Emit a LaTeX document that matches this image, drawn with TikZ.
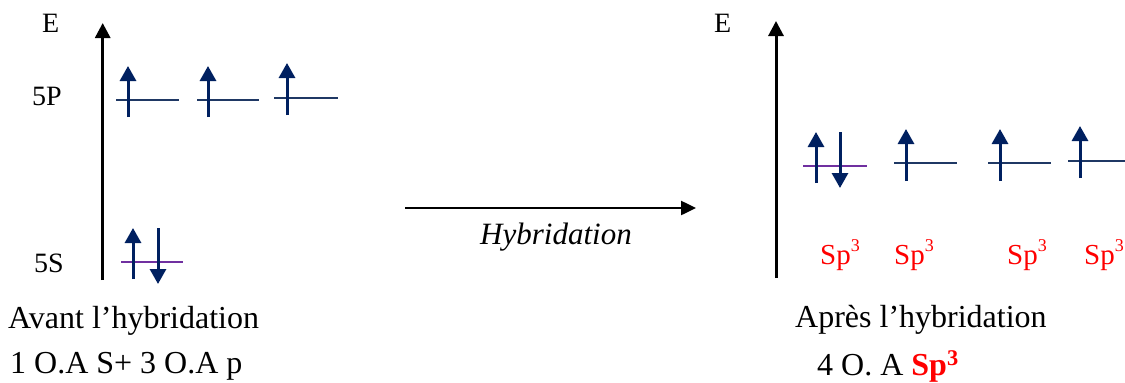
\documentclass[tikz,border=0pt]{standalone}
\usepackage{fontspec}
\setmainfont{Liberation Serif}
\usetikzlibrary{arrows.meta}
\definecolor{navy}{RGB}{0,32,96}
\definecolor{lvl}{RGB}{31,56,100}
\definecolor{purp}{RGB}{112,48,160}
\definecolor{sred}{RGB}{255,0,0}
\newcommand{\spthree}{Sp\raisebox{13pt}{\fontsize{18}{18}\selectfont 3}}
\tikzset{
  axis/.style={line width=3pt,-{Triangle[length=15pt,width=15pt]}},
  level/.style={line width=2pt,lvl},
  slevel/.style={line width=2pt,purp},
  spin/.style={line width=3pt,navy,-{Triangle[length=15pt,width=16pt]}},
  lbl/.style={inner sep=0pt,anchor=base west,font=\fontsize{28}{30}\selectfont},
  big/.style={inner sep=0pt,anchor=base west,font=\fontsize{32}{36}\selectfont},
  sp/.style={inner sep=0pt,anchor=base west,text=sred,font=\fontsize{29}{30}\selectfont},
}
\begin{document}
\begin{tikzpicture}[x=1pt,y=-1pt]
\useasboundingbox (0,0) rectangle (1125,383);
% left axis
\coordinate (la0) at (102.7,280);
\coordinate (la1) at (102.7,23);
\draw[axis] (la0) -- (la1);
\node[lbl] (E1) at (42,32) {E};
\node[lbl] (P5) at (32,105) {5P};
\node[lbl] (S5) at (34,272) {5S};
% 5P levels
\coordinate (p1a) at (116,99.5); \coordinate (p1b) at (179,99.5);
\coordinate (p2a) at (197,99.5); \coordinate (p2b) at (259,99.5);
\coordinate (p3a) at (274,97.7); \coordinate (p3b) at (338,97.7);
\draw[level] (p1a) -- (p1b);
\draw[level] (p2a) -- (p2b);
\draw[level] (p3a) -- (p3b);
\coordinate (u1a) at (128,117); \coordinate (u1b) at (128,66);
\coordinate (u2a) at (208,117); \coordinate (u2b) at (208,66);
\coordinate (u3a) at (287,115); \coordinate (u3b) at (287,63);
\draw[spin] (u1a) -- (u1b);
\draw[spin] (u2a) -- (u2b);
\draw[spin] (u3a) -- (u3b);
% 5S level
\coordinate (s1a) at (121,262); \coordinate (s1b) at (183,262);
\draw[slevel] (s1a) -- (s1b);
\coordinate (su0) at (133,279); \coordinate (su1) at (133,228);
\coordinate (sd0) at (158,228); \coordinate (sd1) at (158,284);
\draw[spin] (su0) -- (su1);
\draw[spin] (sd0) -- (sd1);
% hybridation arrow
\coordinate (h0) at (405,208); \coordinate (h1) at (696,208);
\draw[line width=2.5pt,-{Triangle[length=15pt,width=14pt]}] (h0) -- (h1);
\node[inner sep=0pt,anchor=base west,font=\fontsize{31}{36}\selectfont\itshape] (hyb) at (480,244) {Hybridation};
% right axis
\coordinate (ra0) at (776,278);
\coordinate (ra1) at (776,21);
\draw[axis] (ra0) -- (ra1);
\node[lbl] (E2) at (714,32) {E};
% sp3 levels
\coordinate (q1a) at (803,166); \coordinate (q1b) at (867,166);
\draw[slevel] (q1a) -- (q1b);
\coordinate (q2a) at (894,163); \coordinate (q2b) at (957,163);
\coordinate (q3a) at (988,163); \coordinate (q3b) at (1051,163);
\coordinate (q4a) at (1068,161); \coordinate (q4b) at (1125,161);
\draw[level] (q2a) -- (q2b);
\draw[level] (q3a) -- (q3b);
\draw[level] (q4a) -- (q4b);
\coordinate (v1a) at (816,183); \coordinate (v1b) at (816,132);
\coordinate (w1a) at (840,132); \coordinate (w1b) at (840,188);
\coordinate (v2a) at (906,181); \coordinate (v2b) at (906,129);
\coordinate (v3a) at (1000,181); \coordinate (v3b) at (1000,129);
\coordinate (v4a) at (1080,178); \coordinate (v4b) at (1080,126);
\draw[spin] (v1a) -- (v1b);
\draw[spin] (w1a) -- (w1b);
\draw[spin] (v2a) -- (v2b);
\draw[spin] (v3a) -- (v3b);
\draw[spin] (v4a) -- (v4b);
\node[sp] (sp1) at (820,264) {\spthree};
\node[sp] (sp2) at (894,264) {\spthree};
\node[sp] (sp3) at (1007,264) {\spthree};
\node[sp] (sp4) at (1084,264) {\spthree};
% bottom texts
\node[big] (avant) at (8,328) {Avant l’hybridation};
\node[big] (oa1) at (10,373) {1 O.A S+ 3 O.A p};
\node[big] (apres) at (795,327) {Après l’hybridation};
\node[big] (oa2) at (817,375) {4 O. A \textcolor{sred}{\bfseries Sp\textsuperscript{3}}};
\end{tikzpicture}
\end{document}
